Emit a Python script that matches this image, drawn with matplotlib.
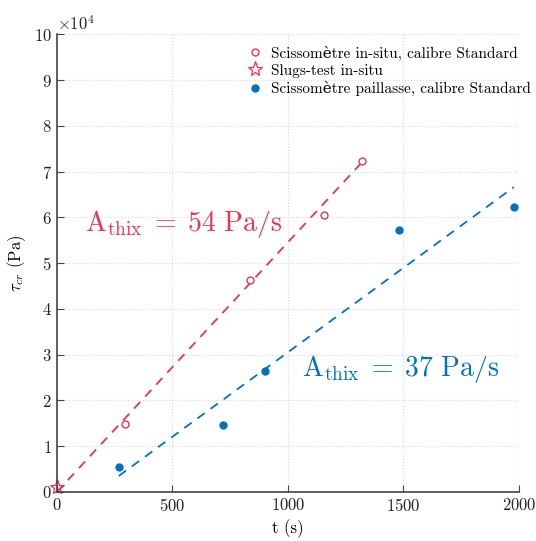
import matplotlib
matplotlib.use("Agg")
import matplotlib.pyplot as plt
import numpy as np
from matplotlib.ticker import ScalarFormatter

plt.rcParams["font.family"] = ["cmr10", "DejaVu Serif"]
plt.rcParams["mathtext.fontset"] = "cm"
plt.rcParams["axes.formatter.use_mathtext"] = True

RED = "#EE3350"
BLUE = "#0072BD"
AXIS = "#444444"

# data (t in s, tau in Pa)
insitu_t = [294, 835, 1156, 1320]
insitu_tau = [14800, 46300, 60500, 72300]
slug_t = [0]
slug_tau = [1000]
lab_t = [268, 719, 900, 1481, 1978]
lab_tau = [5500, 14600, 26400, 57200, 62200]

# fitted lines
red_fit_t = [0, 1320]
red_fit_tau = [0, 72000]
blue_fit_t = [268, 1978]
blue_fit_tau = [3500, 66600]

fig = plt.figure(figsize=(5.36, 5.41), dpi=100)
ax = fig.add_axes([0.106, 0.0906, 0.862, 0.846])

ax.plot(red_fit_t, red_fit_tau, "--", color=RED, lw=1.3, dashes=(5, 4))
ax.plot(blue_fit_t, blue_fit_tau, "--", color=BLUE, lw=1.3, dashes=(5, 4))
ax.plot(insitu_t, insitu_tau, "o", mfc="white", mec=RED, ms=5, mew=1,
        label="Scissomètre in-situ, calibre Standard")
ax.plot(slug_t, slug_tau, "*", mfc="none", mec=RED, ms=11, mew=0.9,
        label="Slugs-test in-situ", clip_on=False)
ax.plot(lab_t, lab_tau, "o", color=BLUE, ms=5,
        label="Scissomètre paillasse, calibre Standard")

ax.text(121, 57000, r"$\mathrm{A}_{\mathrm{thix}}\;=\;54\ \mathrm{Pa/s}$",
        color=RED, fontsize=20, va="baseline")
ax.text(1060, 25300, r"$\mathrm{A}_{\mathrm{thix}}\;=\;37\ \mathrm{Pa/s}$",
        color=BLUE, fontsize=20, va="baseline")

ax.set_xlim(0, 2000)
ax.set_ylim(0, 100000)
ax.set_xticks([0, 500, 1000, 1500, 2000])
ax.set_yticks(np.arange(0, 100001, 10000))
fmt = ScalarFormatter(useMathText=True)
fmt.set_powerlimits((4, 4))
ax.yaxis.set_major_formatter(fmt)
ax.yaxis.get_offset_text().set_fontsize(12)

ax.grid(True, ls=":", color="#d8d8d8", lw=0.8)
for s in ["top", "right"]:
    ax.spines[s].set_visible(False)
for s in ["left", "bottom"]:
    ax.spines[s].set_color(AXIS)
    ax.spines[s].set_linewidth(1.2)
ax.tick_params(direction="in", length=5, colors=AXIS, labelcolor="#222222",
               labelsize=12)

ax.set_xlabel("t (s)", fontsize=12)
ax.set_ylabel(r"$\tau_{cr}$ (Pa)", fontsize=12)

ax.legend(loc="upper right", frameon=False, fontsize=11, handlelength=1,
          handletextpad=0.5, labelspacing=0.2, borderaxespad=0.2,
          bbox_to_anchor=(1.045, 0.995))

fig.savefig("out.png", dpi=100)
